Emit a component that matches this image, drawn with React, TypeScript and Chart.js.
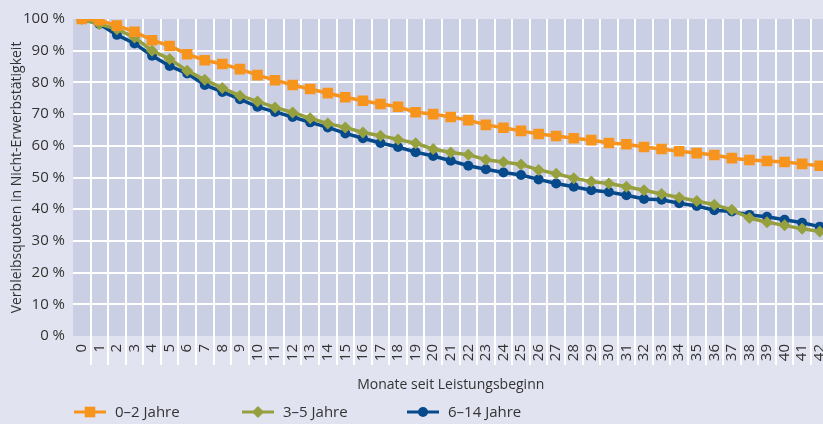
import React, { useEffect, useRef } from 'react';
import { Chart, registerables } from 'chart.js';

Chart.register(...registerables);

const months = ['0','1','2','3','4','5','6','7','8','9','10','11','12','13','14','15','16','17','18','19','20','21','22','23','24','25','26','27','28','29','30','31','32','33','34','35','36','37','38','39','40','41','42'];

const series02 = [100, 99.6, 97.9, 96.0, 93.3, 91.5, 88.9, 87.0, 85.8, 84.2, 82.3, 80.7, 79.2, 77.9, 76.6, 75.3, 74.2, 73.2, 72.3, 70.6, 70.0, 69.1, 68.1, 66.6, 65.7, 64.7, 63.7, 63.1, 62.4, 61.8, 60.9, 60.5, 59.6, 59.0, 58.3, 57.7, 57.1, 56.1, 55.5, 55.2, 54.9, 54.3, 53.7];
const series35 = [100, 98.4, 96.8, 94.2, 90.0, 87.4, 83.7, 80.8, 78.2, 75.8, 74.0, 72.1, 70.5, 68.7, 67.0, 65.8, 64.2, 63.2, 62.0, 60.8, 59.0, 57.9, 57.2, 55.6, 54.9, 54.1, 52.4, 51.2, 49.8, 48.7, 48.1, 47.1, 46.0, 44.8, 43.7, 42.6, 41.4, 39.8, 37.2, 35.9, 34.9, 33.8, 33.0];
const series614 = [100, 98.4, 95.0, 92.3, 88.4, 85.2, 82.8, 79.2, 77.0, 74.7, 72.3, 70.7, 69.1, 67.4, 65.8, 63.9, 62.4, 60.9, 59.6, 58.0, 56.8, 55.3, 53.7, 52.6, 51.6, 50.8, 49.4, 48.1, 47.1, 46.0, 45.4, 44.4, 43.2, 43.0, 41.9, 41.0, 39.7, 39.3, 38.2, 37.6, 36.7, 35.7, 34.5];

const seriesNames = ['0–2 Jahre', '3–5 Jahre', '6–14 Jahre'];
const yTickValues = [0, 10, 20, 30, 40, 50, 60, 70, 80, 90, 100];

const ORANGE = '#f7941d';
const OLIVE = '#97a03f';
const NAVY = '#074a8c';
const OUTER_BG = '#e1e3f0';
const PLOT_BG = '#cbcfe3';
const TEXT = '#333333';
const FONT = "'Open Sans', sans-serif";

const legendStarts = [74, 242, 407];

const bgPlugin = {
  id: 'bgPlugin',
  beforeDraw(chart: any) {
    const { ctx, chartArea } = chart;
    ctx.save();
    ctx.fillStyle = OUTER_BG;
    ctx.fillRect(0, 0, chart.width, chart.height);
    ctx.fillStyle = PLOT_BG;
    ctx.fillRect(chartArea.left, chartArea.top, chartArea.right - chartArea.left, chartArea.bottom - chartArea.top);
    ctx.restore();
  },
};

function drawMarker(ctx: CanvasRenderingContext2D, style: string, x: number, y: number, r: number) {
  ctx.beginPath();
  if (style === 'rect') {
    const s = Math.SQRT1_2 * r;
    ctx.rect(x - s, y - s, 2 * s, 2 * s);
  } else if (style === 'rectRot') {
    ctx.moveTo(x, y - r);
    ctx.lineTo(x + r, y);
    ctx.lineTo(x, y + r);
    ctx.lineTo(x - r, y);
    ctx.closePath();
  } else {
    ctx.arc(x, y, r, 0, Math.PI * 2);
  }
  ctx.fill();
}

const legendPlugin = {
  id: 'customLegend',
  afterDraw(chart: any) {
    const { ctx } = chart;
    const y = 412;
    ctx.save();
    chart.data.datasets.forEach((ds: any, i: number) => {
      const x0 = legendStarts[i];
      ctx.strokeStyle = ds.borderColor;
      ctx.lineWidth = 3;
      ctx.beginPath();
      ctx.moveTo(x0, y);
      ctx.lineTo(x0 + 32, y);
      ctx.stroke();
      ctx.fillStyle = ds.backgroundColor;
      drawMarker(ctx, ds.pointStyle, x0 + 16, y, ds.pointRadius);
      ctx.fillStyle = TEXT;
      ctx.font = `15px ${FONT}`;
      ctx.textBaseline = 'middle';
      ctx.textAlign = 'left';
      ctx.fillText(ds.label, x0 + 41, y + 1);
    });
    ctx.restore();
  },
};

export default function App() {
  const ref = useRef<HTMLCanvasElement | null>(null);

  useEffect(() => {
    if (!ref.current) return;
    const chart = new Chart(ref.current, {
      type: 'line',
      data: {
        labels: months,
        datasets: [
          {
            label: seriesNames[0],
            data: series02,
            borderColor: ORANGE,
            backgroundColor: ORANGE,
            borderWidth: 3.5,
            pointStyle: 'rect',
            pointRadius: 7.5,
            pointBorderWidth: 0,
            tension: 0,
          },
          {
            label: seriesNames[1],
            data: series35,
            borderColor: OLIVE,
            backgroundColor: OLIVE,
            borderWidth: 3.5,
            pointStyle: 'rectRot',
            pointRadius: 6,
            pointBorderWidth: 0,
            tension: 0,
          },
          {
            label: seriesNames[2],
            data: series614,
            borderColor: NAVY,
            backgroundColor: NAVY,
            borderWidth: 3.5,
            pointStyle: 'circle',
            pointRadius: 5,
            pointBorderWidth: 0,
            tension: 0,
          },
        ],
      },
      options: {
        responsive: false,
        animation: false,
        layout: { padding: { top: 19, right: 0, bottom: 30, left: 0 } },
        plugins: {
          legend: { display: false },
          tooltip: { enabled: false },
        },
        scales: {
          x: {
            type: 'category',
            offset: true,
            border: { display: false },
            grid: {
              offset: true,
              lineWidth: 2,
              color: (c: any) => (c.index === 0 ? 'rgba(0,0,0,0)' : '#ffffff'),
              tickColor: (c: any) => (c.index === 0 ? 'rgba(0,0,0,0)' : '#ffffff'),
              drawTicks: true,
              tickLength: 29,
              tickWidth: 2,
            },
            ticks: {
              autoSkip: false,
              maxRotation: 90,
              minRotation: 90,
              padding: -21,
              color: TEXT,
              font: { family: FONT, size: 15 },
            },
            title: {
              display: true,
              text: 'Monate seit Leistungsbeginn',
              color: TEXT,
              font: { family: FONT, size: 14 },
              padding: { top: 0, bottom: 1 },
            },
            afterFit(scale: any) {
              scale.height = 58;
            },
          },
          y: {
            min: 0,
            max: 100,
            border: { display: false },
            afterBuildTicks(scale: any) {
              scale.ticks = yTickValues.map((v) => ({ value: v }));
            },
            grid: {
              lineWidth: 2,
              drawTicks: false,
              color: (c: any) =>
                c.tick && (c.tick.value === 0 || c.tick.value === 100) ? 'rgba(0,0,0,0)' : '#ffffff',
            },
            ticks: {
              padding: 8,
              color: TEXT,
              font: { family: FONT, size: 15 },
              callback: (v: any) => `${v} %`,
            },
            title: {
              display: true,
              text: 'Verbleibsquoten in Nicht-Erwerbstätigkeit',
              color: TEXT,
              font: { family: FONT, size: 14 },
              padding: { top: 9, bottom: 0 },
            },
            afterFit(scale: any) {
              scale.width = 73;
            },
          },
        },
      },
      plugins: [bgPlugin, legendPlugin],
    });
    return () => chart.destroy();
  }, []);

  return (
    <div
      style={{
        position: 'fixed',
        left: 0,
        top: 0,
        width: 823,
        height: 424,
        overflow: 'hidden',
        background: OUTER_BG,
      }}
    >
      <canvas ref={ref} width={836} height={424} style={{ display: 'block' }} />
    </div>
  );
}
